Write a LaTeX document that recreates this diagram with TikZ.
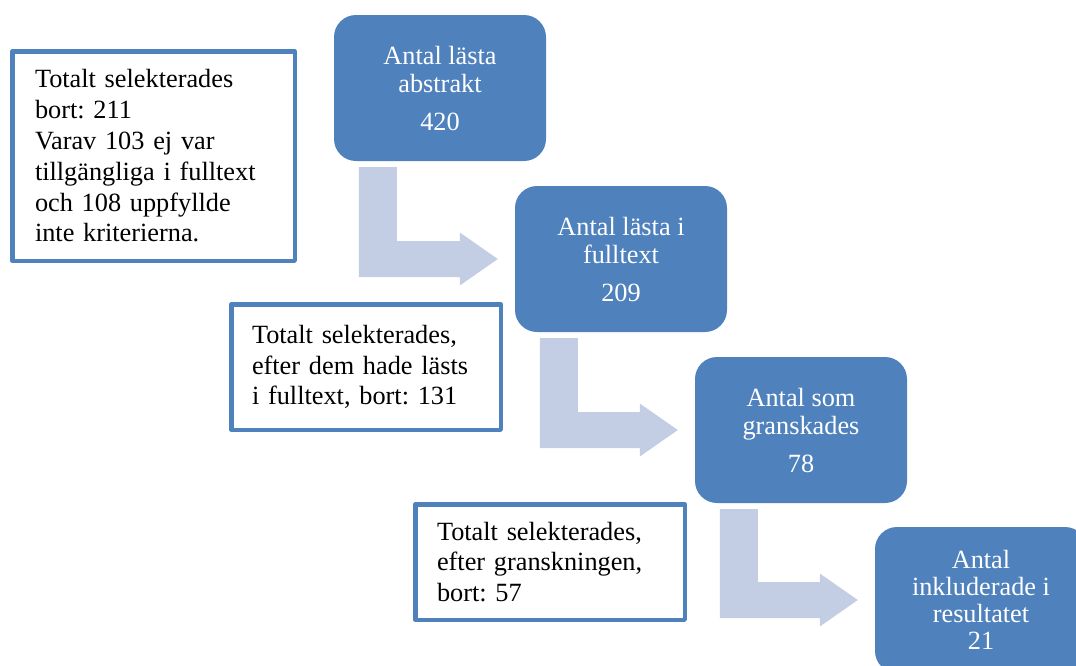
\documentclass[tikz,border=0pt]{standalone}
\usepackage{fontspec}
\setmainfont{Liberation Serif}
\usetikzlibrary{calc}
\frenchspacing
\definecolor{boxblue}{HTML}{4F81BD}
\definecolor{arrowblue}{HTML}{C3CDE3}
\tikzset{
  stage/.style={fill=boxblue, rounded corners=22pt, minimum width=212pt, minimum height=146pt,
    inner sep=0pt, text=white, align=center, font=\fontsize{26.3}{28}\selectfont},
  note/.style={draw=boxblue, line width=4.5pt, line join=round, fill=white, align=left,
    inner ysep=0pt, font=\fontsize{26.3}{30.8}\selectfont},
  bent/.style={fill=arrowblue}
}
\newcommand\bentarrow[2]{%
  \path ($(#1.south west)+(25,6)$) coordinate (#1-l)
        ($(#1.south west)+(63,6)$) coordinate (#1-r)
        ($(#2.west)+(-55,-18)$) coordinate (#2-bt)
        ($(#2.west)+(-55,18)$) coordinate (#2-bb);
  \fill[bent] (#1-l) -- (#1-r) -- (#1-r |- #2-bt) -- (#2-bt)
    -- ($(#2.west)+(-55,-26.5)$) -- ($(#2.west)+(-17,0)$) -- ($(#2.west)+(-55,26.5)$)
    -- (#2-bb) -- (#1-l |- #2-bb) -- cycle;
}
\begin{document}
\begin{tikzpicture}[x=1pt,y=-1pt]
  \useasboundingbox (0,0) rectangle (1076,665);
  \clip (0,0) rectangle (1076,665);
  \node[stage] (A) at (440,88) {Antal lästa\\abstrakt\\[10pt]420};
  \node[stage] (B) at (621,259) {Antal lästa i\\fulltext\\[10pt]209};
  \node[stage] (C) at (801,430) {Antal som\\granskades\\[10pt]78};
  \node[stage, font=\fontsize{26.3}{27}\selectfont] (D) at (981,600) {Antal\\inkluderade i\\resultatet\\21};
  \bentarrow{A}{B}
  \bentarrow{B}{C}
  \bentarrow{C}{D}
  \node[note, minimum width=282.5pt, minimum height=209.5pt, text width=237pt, inner xsep=22.75pt] (n1) at (153.5,156)
    {Totalt selekterades\\bort: 211\\Varav 103 ej var\\tillgängliga i fulltext\\och 108 uppfyllde\\inte kriterierna.};
  \node[note, minimum width=269.5pt, minimum height=125.5pt, text width=228pt, inner xsep=20.75pt] (n2) at (366,367)
    {Totalt selekterades,\\efter dem hade lästs\\i fulltext, bort: 131};
  \node[note, minimum width=269.5pt, minimum height=115.5pt, text width=226pt, inner xsep=21.75pt] (n3) at (550,562)
    {Totalt selekterades,\\efter granskningen,\\bort: 57};
\end{tikzpicture}
\end{document}
